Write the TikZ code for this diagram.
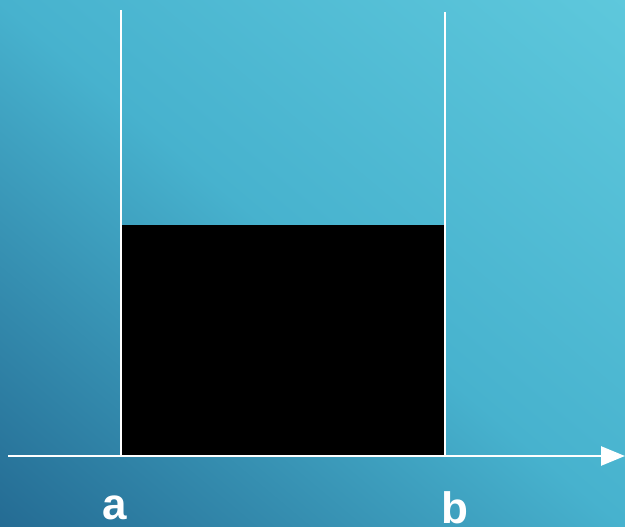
\documentclass[tikz,border=0pt]{standalone}
\usepackage{fontspec}
\setmainfont{Liberation Sans}
\usetikzlibrary{arrows.meta}
\definecolor{bgdark}{HTML}{246B93}
\definecolor{bglight}{HTML}{5EC8DC}
\definecolor{bgmid}{HTML}{47B2CE}
\begin{document}
\begin{tikzpicture}[x=1pt,y=-1pt,
  wline/.style={white,line width=2.6pt},
  lbl/.style={text=white,font=\fontsize{44}{44}\selectfont\bfseries,inner sep=0pt,anchor=base}]
\useasboundingbox (0,0) rectangle (625,527);
\shade[top color=bglight,bottom color=bgdark,middle color=bgmid,shading angle=-40] (-120,-120) rectangle (745,647);
\fill[black] (122,225) rectangle (444,455);
\coordinate (lt) at (121,10);
\coordinate (lb) at (121,455);
\coordinate (rt) at (445,12);
\coordinate (rb) at (445,455);
\coordinate (ax0) at (8,456);
\coordinate (ax1) at (625,456);
\draw[wline] (lt) -- (lb);
\draw[wline] (rt) -- (rb);
\draw[wline,-{Triangle[length=24pt,width=19pt]}] (ax0) -- (ax1);
\node[lbl] (a) at (115,519) {a};
\node[lbl] (b) at (455,523) {b};
\end{tikzpicture}
\end{document}
